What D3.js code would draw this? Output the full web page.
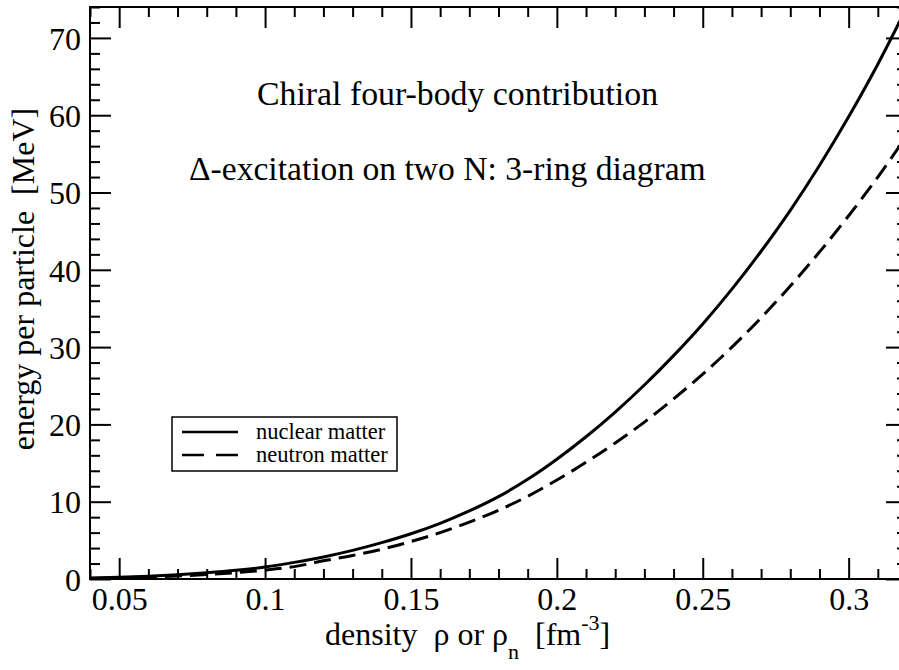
<!DOCTYPE html>
<html>
<head>
<meta charset="utf-8" />
<title>Chiral four-body contribution</title>
<script src="https://d3js.org/d3.v7.min.js"></script>
<style>
    body { margin: 0; background: #fff; }
    svg { display: block; }
    svg text { font-family: "Liberation Serif", "Times New Roman", serif !important; fill: #000; white-space: pre; }
</style>
</head>
<body>
<div id="chart"></div>
<script>
// density values (fm^-3)
var rho = [0.04,0.05,0.06,0.07,0.08,0.09,0.10,0.11,0.12,0.13,0.14,0.15,0.16,0.17,0.18,
           0.19,0.20,0.21,0.22,0.23,0.24,0.25,0.26,0.27,0.28,0.29,0.30,0.31,0.32];
// energy per particle [MeV]
var nuclearMatter = [0.12,0.22,0.36,0.55,0.8,1.12,1.55,2.15,2.85,3.7,4.7,5.85,7.2,8.8,10.65,
                     12.9,15.5,18.4,21.6,25.1,28.9,33.0,37.5,42.4,47.7,53.5,59.8,66.6,74.0];
var neutronMatter = [0.07,0.14,0.24,0.38,0.57,0.82,1.15,1.6,2.35,3.05,3.85,4.85,6.0,7.35,8.9,
                     10.7,12.8,15.1,17.6,20.3,23.3,26.5,30.0,33.8,37.9,42.3,47.0,52.0,57.4];
var xTicks = [0.05,0.1,0.15,0.2,0.25,0.3];
var xTickLabels = ["0.05","0.1","0.15","0.2","0.25","0.3"];
var yTicks = [0,10,20,30,40,50,60,70];
var legendLabels = ["nuclear matter","neutron matter"];

var W = 899, H = 670;
var mLeft = 90, mRight = 907, mTop = 7, mBottom = 579;
var FONT = "Liberation Serif, Times New Roman, serif";

var x = d3.scaleLinear().domain([0.04, 0.32]).range([mLeft, mRight]);
var y = d3.scaleLinear().domain([0, 74]).range([mBottom, mTop]);

var svg = d3.select("#chart").append("svg")
    .attr("width", W)
    .attr("height", H)
    .attr("font-family", FONT);

svg.append("defs").append("clipPath").attr("id", "plotclip")
    .append("rect")
    .attr("x", mLeft).attr("y", mTop)
    .attr("width", mRight - mLeft).attr("height", mBottom - mTop);

// minor tick values
var xMinor = d3.range(4, 33).map(function(v) { return v / 100; })
    .filter(function(v) { return xTicks.indexOf(v) < 0; });
var yMinor = d3.range(0, 75, 2).filter(function(v) { return v % 10 !== 0; });

// axes with inward ticks on all four sides
function styleAxis(g) {
    g.attr("font-family", FONT);
    g.select(".domain").remove();
    g.selectAll("line").attr("stroke", "#000").attr("stroke-width", 2);
}

svg.append("g").attr("transform", "translate(0," + mBottom + ")")
    .call(d3.axisBottom(x).tickValues(xTicks).tickSize(-21)
        .tickFormat(function(d, i) { return xTickLabels[i]; }).tickPadding(10))
    .call(styleAxis)
    .selectAll("text").attr("font-size", 32).attr("font-family", FONT)
    .attr("y", 8).attr("dy", "0.71em");
svg.append("g").attr("transform", "translate(0," + mBottom + ")")
    .call(d3.axisBottom(x).tickValues(xMinor).tickSize(-10).tickFormat(""))
    .call(styleAxis);
svg.append("g").attr("transform", "translate(0," + mTop + ")")
    .call(d3.axisTop(x).tickValues(xTicks).tickSize(-21).tickFormat(""))
    .call(styleAxis);
svg.append("g").attr("transform", "translate(0," + mTop + ")")
    .call(d3.axisTop(x).tickValues(xMinor).tickSize(-10).tickFormat(""))
    .call(styleAxis);

svg.append("g").attr("transform", "translate(" + mLeft + ",0)")
    .call(d3.axisLeft(y).tickValues(yTicks).tickSize(-21).tickPadding(10))
    .call(styleAxis)
    .selectAll("text").attr("font-size", 32).attr("font-family", FONT)
    .attr("x", -9).attr("dy", "0.35em");
svg.append("g").attr("transform", "translate(" + mLeft + ",0)")
    .call(d3.axisLeft(y).tickValues(yMinor).tickSize(-10).tickFormat(""))
    .call(styleAxis);
svg.append("g").attr("transform", "translate(" + mRight + ",0)")
    .call(d3.axisRight(y).tickValues(yTicks).tickSize(-21).tickFormat(""))
    .call(styleAxis);
svg.append("g").attr("transform", "translate(" + mRight + ",0)")
    .call(d3.axisRight(y).tickValues(yMinor).tickSize(-10).tickFormat(""))
    .call(styleAxis);

// frame
svg.append("rect")
    .attr("x", mLeft).attr("y", mTop)
    .attr("width", mRight - mLeft).attr("height", mBottom - mTop)
    .attr("fill", "none").attr("stroke", "#000").attr("stroke-width", 2);

// curves
var line = d3.line()
    .x(function(d) { return x(d[0]); })
    .y(function(d) { return y(d[1]); })
    .curve(d3.curveMonotoneX);

var plot = svg.append("g").attr("clip-path", "url(#plotclip)");
plot.append("path")
    .datum(rho.map(function(r, i) { return [r, nuclearMatter[i]]; }))
    .attr("d", line)
    .attr("fill", "none").attr("stroke", "#000").attr("stroke-width", 3);
plot.append("path")
    .datum(rho.map(function(r, i) { return [r, neutronMatter[i]]; }))
    .attr("d", line)
    .attr("fill", "none").attr("stroke", "#000").attr("stroke-width", 3)
    .attr("stroke-dasharray", "17,8");

// annotations
svg.append("text").attr("x", 257).attr("y", 105).attr("font-size", 33.8)
    .text("Chiral four-body contribution");
svg.append("text").attr("x", 189).attr("y", 180).attr("font-size", 33.6)
    .text("\u0394-excitation on two N: 3-ring diagram");

// legend
var lg = svg.append("g");
lg.append("rect").attr("x", 172).attr("y", 417).attr("width", 225).attr("height", 54)
    .attr("fill", "#fff").attr("stroke", "#000").attr("stroke-width", 1.5);
lg.append("line").attr("x1", 182).attr("x2", 238).attr("y1", 432).attr("y2", 432)
    .attr("stroke", "#000").attr("stroke-width", 2.5);
lg.append("line").attr("x1", 182).attr("x2", 238).attr("y1", 455).attr("y2", 455)
    .attr("stroke", "#000").attr("stroke-width", 2.5).attr("stroke-dasharray", "22,12");
lg.append("text").attr("x", 256).attr("y", 439).attr("font-size", 22.5).text(legendLabels[0]);
lg.append("text").attr("x", 256).attr("y", 462).attr("font-size", 22.5).text(legendLabels[1]);

// axis titles
var xt = svg.append("text").attr("x", 325).attr("y", 645).attr("font-size", 32);
xt.append("tspan").text("density  \u03c1 or \u03c1");
xt.append("tspan").attr("font-size", 22).attr("dy", 14).text("n");
xt.append("tspan").attr("dy", -14).text("  [fm");
xt.append("tspan").attr("font-size", 22).attr("dy", -15).text("-3");
xt.append("tspan").attr("dy", 15).text("]");

svg.append("text")
    .attr("transform", "translate(34,279) rotate(-90)")
    .attr("text-anchor", "middle").attr("font-size", 32)
    .text("energy per particle  [MeV]");
</script>
</body>
</html>
